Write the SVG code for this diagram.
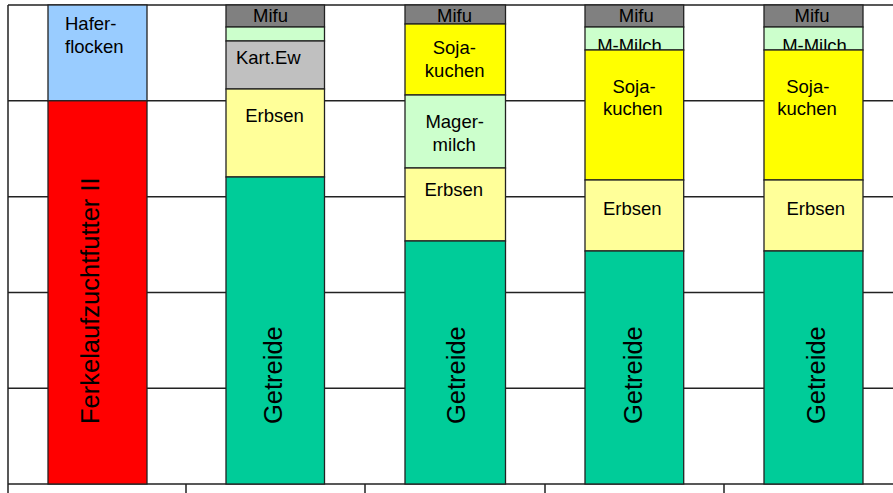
<svg xmlns="http://www.w3.org/2000/svg" width="893" height="493" viewBox="0 0 893 493">
<style>
.grid{stroke:#222;stroke-width:1.5;fill:none}
.seg{stroke:#222;stroke-width:1.3}
.t{font-family:"Liberation Sans",Arial,sans-serif;font-size:18.5px;fill:#000;text-anchor:middle}
.tl{font-family:"Liberation Sans",Arial,sans-serif;font-size:18.5px;fill:#000}
.v{font-family:"Liberation Sans",Arial,sans-serif;font-size:25.5px;fill:#000}
.mifu{fill:#808080}.mm{fill:#CCFFCC}.kart{fill:#C0C0C0}.erb{fill:#FFFF99}.get{fill:#00CC99}.soja{fill:#FFFF00}.hafer{fill:#99CCFF}.ferk{fill:#FF0000}
</style>
<rect width="893" height="493" fill="#fff"/>
<g id="grid">
<path class="grid" d="M8 5H893M8 100.8H893M8 196.7H893M8 292.5H893M8 388.3H893M8 484H893M8 5V493M186 484V493M365 484V493M545 484V493M724 484V493"/>
</g>
<g id="bar1">
<g id="bar1-hafer"><rect class="seg hafer" x="48" y="5" width="99" height="95.8"/>
<text class="tl" x="65" y="30">Hafer-</text><text class="tl" x="65" y="53">flocken</text></g>
<g id="bar1-ferkel"><rect class="seg ferk" x="48" y="100.8" width="99" height="383.2"/>
<text class="v" transform="translate(99,424) rotate(-90)">Ferkelaufzuchtfutter II</text></g>
</g>
<g id="bar2">
<g id="bar2-mifu"><rect class="seg mifu" x="226" y="5" width="98.5" height="22"/><text class="t" x="270.5" y="22">Mifu</text></g>
<g id="bar2-mm"><rect class="seg mm" x="226" y="27" width="98.5" height="14"/></g>
<g id="bar2-kart"><rect class="seg kart" x="226" y="41" width="98.5" height="48"/><text class="t" x="268.3" y="64">Kart.Ew</text></g>
<g id="bar2-erbsen"><rect class="seg erb" x="226" y="89" width="98.5" height="88"/><text class="t" x="274.5" y="122">Erbsen</text></g>
<g id="bar2-getreide"><rect class="seg get" x="226" y="177" width="98.5" height="307"/><text class="v" transform="translate(282,424) rotate(-90)">Getreide</text></g>
</g>
<g id="bar3">
<g id="bar3-mifu"><rect class="seg mifu" x="405" y="5" width="100.5" height="19"/><text class="t" x="454.5" y="22">Mifu</text></g>
<g id="bar3-soja"><rect class="seg soja" x="405" y="24" width="100.5" height="71"/><text class="t" x="454.3" y="54">Soja-</text><text class="t" x="454.7" y="76.7">kuchen</text></g>
<g id="bar3-magermilch"><rect class="seg mm" x="405" y="95" width="100.5" height="73"/><text class="t" x="454.7" y="128">Mager-</text><text class="t" x="454.2" y="150.7">milch</text></g>
<g id="bar3-erbsen"><rect class="seg erb" x="405" y="168" width="100.5" height="73"/><text class="t" x="453.7" y="195.7">Erbsen</text></g>
<g id="bar3-getreide"><rect class="seg get" x="405" y="241" width="100.5" height="243"/><text class="v" transform="translate(465,424) rotate(-90)">Getreide</text></g>
</g>
<g id="bar4">
<g id="bar4-mifu"><rect class="seg mifu" x="585" y="5" width="98.7" height="22"/><text class="t" x="636.3" y="22">Mifu</text></g>
<g id="bar4-mmilch"><rect class="seg mm" x="585" y="27" width="98.7" height="23"/><text class="t" x="629.5" y="51.5">M-Milch</text></g>
<g id="bar4-soja"><rect class="seg soja" x="585" y="50" width="98.7" height="130"/><text class="t" x="634" y="93.3">Soja-</text><text class="t" x="632.8" y="115">kuchen</text></g>
<g id="bar4-erbsen"><rect class="seg erb" x="585" y="180" width="98.7" height="71"/><text class="t" x="632.2" y="215">Erbsen</text></g>
<g id="bar4-getreide"><rect class="seg get" x="585" y="251" width="98.7" height="233"/><text class="v" transform="translate(641.7,424) rotate(-90)">Getreide</text></g>
</g>
<g id="bar5">
<g id="bar5-mifu"><rect class="seg mifu" x="764" y="5" width="99" height="22"/><text class="t" x="812" y="22">Mifu</text></g>
<g id="bar5-mmilch"><rect class="seg mm" x="764" y="27" width="99" height="23"/><text class="t" x="814.5" y="51.5">M-Milch</text></g>
<g id="bar5-soja"><rect class="seg soja" x="764" y="50" width="99" height="130"/><text class="t" x="807.8" y="93.3">Soja-</text><text class="t" x="807" y="115">kuchen</text></g>
<g id="bar5-erbsen"><rect class="seg erb" x="764" y="180" width="99" height="71"/><text class="t" x="815.8" y="215">Erbsen</text></g>
<g id="bar5-getreide"><rect class="seg get" x="764" y="251" width="99" height="233"/><text class="v" transform="translate(825,424) rotate(-90)">Getreide</text></g>
</g>
<g id="connectors"/>
</svg>
